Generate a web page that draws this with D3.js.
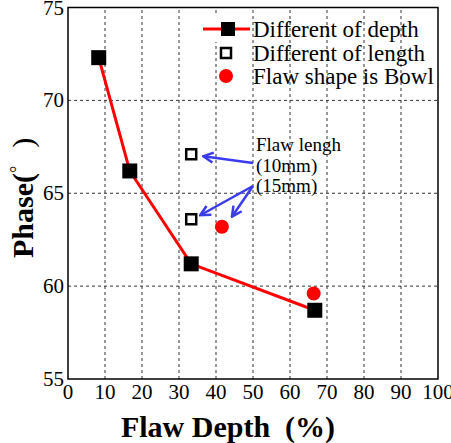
<!DOCTYPE html>
<html>
<head>
<meta charset="utf-8">
<script src="https://cdn.jsdelivr.net/npm/d3@7"></script>
<style>
  body { margin: 0; background: #fff; }
  svg text { font-family: "Liberation Serif", "DejaVu Serif", serif; }
</style>
</head>
<body>
<svg id="chart" width="451" height="443"></svg>
<script>
// data
const depthX = [8.3, 16.7, 33.3, 66.7];
const depthY = [72.3, 66.2, 61.2, 58.7];
const lengthX = [33.3, 33.3];
const lengthY = [67.1, 63.6];
const bowlX = [41.6, 66.4];
const bowlY = [63.2, 59.6];
const xTicks = [0, 10, 20, 30, 40, 50, 60, 70, 80, 90, 100];
const yTicks = [55, 60, 65, 70, 75];
const legendLabels = ['Different of depth', 'Different of length', 'Flaw shape is Bowl'];
const noteLines = ['Flaw lengh', '(10mm)', '(15mm)'];

const svg = d3.select('#chart');
const serif = '"Liberation Serif", "Times New Roman", serif';

const x = d3.scaleLinear().domain([0, 100]).range([68, 438]);
const y = d3.scaleLinear().domain([55, 75]).range([379, 7.5]);

// grid
const grid = svg.append('g')
    .attr('stroke', '#333')
    .attr('stroke-width', 1)
    .attr('stroke-dasharray', '3,3');
xTicks.slice(1, -1).forEach(t => {
    grid.append('line')
        .attr('x1', x(t)).attr('x2', x(t))
        .attr('y1', y(55)).attr('y2', y(75));
});
yTicks.slice(1, -1).forEach(t => {
    grid.append('line')
        .attr('x1', x(0)).attr('x2', x(100))
        .attr('y1', y(t)).attr('y2', y(t));
});

// frame
svg.append('rect')
    .attr('x', x(0)).attr('y', y(75))
    .attr('width', x(100) - x(0)).attr('height', y(55) - y(75))
    .attr('fill', 'none')
    .attr('stroke', '#000')
    .attr('stroke-width', 1.5);

// tick labels
svg.append('g').selectAll('text')
    .data(xTicks)
    .enter()
    .append('text')
    .attr('x', d => x(d))
    .attr('y', 399)
    .attr('text-anchor', 'middle')
    .attr('font-family', serif)
    .attr('font-size', 21)
    .text(d => d);

svg.append('g').selectAll('text')
    .data(yTicks)
    .enter()
    .append('text')
    .attr('x', 64)
    .attr('y', d => y(d) + 7)
    .attr('text-anchor', 'end')
    .attr('font-family', serif)
    .attr('font-size', 21)
    .text(d => d);

// axis titles
svg.append('text')
    .attr('x', 228)
    .attr('y', 437)
    .attr('text-anchor', 'middle')
    .attr('font-family', serif)
    .attr('font-size', 30)
    .attr('font-weight', 'bold')
    .attr('xml:space', 'preserve')
    .text('Flaw Depth  (%)');

const yTitle = svg.append('text')
    .attr('transform', 'translate(33,258) rotate(-90)')
    .attr('font-family', serif)
    .attr('font-size', 30)
    .attr('font-weight', 'bold');
yTitle.append('tspan').text('Phase(');
yTitle.append('tspan').attr('font-size', 18).attr('font-weight', 'normal').attr('dy', -10).text('°');
yTitle.append('tspan').attr('dx', 18).attr('dy', 10).attr('font-weight', 'normal').text(')');

// depth series
const depthPts = depthX.map((d, i) => [d, depthY[i]]);
svg.append('path')
    .datum(depthPts)
    .attr('d', d3.line().x(d => x(d[0])).y(d => y(d[1])))
    .attr('fill', 'none')
    .attr('stroke', '#ff0000')
    .attr('stroke-width', 3);

const sq = 15;
svg.append('g').selectAll('rect')
    .data(depthPts)
    .enter()
    .append('rect')
    .attr('x', d => x(d[0]) - sq / 2)
    .attr('y', d => y(d[1]) - sq / 2)
    .attr('width', sq).attr('height', sq)
    .attr('fill', '#000');

// length series (open squares)
const osq = 10;
svg.append('g').selectAll('rect')
    .data(lengthX.map((d, i) => [d, lengthY[i]]))
    .enter()
    .append('rect')
    .attr('x', d => x(d[0]) - osq / 2)
    .attr('y', d => y(d[1]) - osq / 2)
    .attr('width', osq).attr('height', osq)
    .attr('fill', '#fff')
    .attr('stroke', '#000')
    .attr('stroke-width', 2.5);

// bowl series
svg.append('g').selectAll('circle')
    .data(bowlX.map((d, i) => [d, bowlY[i]]))
    .enter()
    .append('circle')
    .attr('cx', d => x(d[0]))
    .attr('cy', d => y(d[1]))
    .attr('r', 7)
    .attr('fill', '#ff0000');

// legend
const lg = svg.append('g');
lg.append('rect').attr('x', 203).attr('y', 16).attr('width', 48).attr('height', 26).attr('fill', '#fff');
lg.append('line')
    .attr('x1', 203).attr('x2', 250)
    .attr('y1', 29).attr('y2', 29)
    .attr('stroke', '#ff0000').attr('stroke-width', 3);
lg.append('rect').attr('x', 221).attr('y', 22).attr('width', 14).attr('height', 14).attr('fill', '#000');
lg.append('rect').attr('x', 221).attr('y', 48).attr('width', 10).attr('height', 10)
    .attr('fill', '#fff').attr('stroke', '#000').attr('stroke-width', 2.5);
lg.append('circle').attr('cx', 226).attr('cy', 76).attr('r', 7).attr('fill', '#ff0000');
lg.selectAll('text.lbl')
    .data(legendLabels)
    .enter()
    .append('text')
    .attr('class', 'lbl')
    .attr('x', 253)
    .attr('y', (d, i) => 37 + i * 23.5)
    .attr('font-family', serif)
    .attr('font-size', 23)
    .text(d => d);

// annotation
svg.append('g').selectAll('text')
    .data(noteLines)
    .enter()
    .append('text')
    .attr('x', 256)
    .attr('y', (d, i) => 151 + i * 20.5)
    .attr('font-family', serif)
    .attr('font-size', 19)
    .text(d => d);

const blue = '#3a3aee';
svg.append('defs').append('marker')
    .attr('id', 'ah')
    .attr('viewBox', '0 0 10 10')
    .attr('refX', 9).attr('refY', 5)
    .attr('markerWidth', 5).attr('markerHeight', 5)
    .attr('orient', 'auto')
    .append('path')
    .attr('d', 'M1,1 L9,5 L1,9')
    .attr('fill', 'none')
    .attr('stroke', blue)
    .attr('stroke-width', 2);

const arrows = [
    [[253, 163], [x(lengthX[0]) + 12, y(lengthY[0]) + 2]],
    [[253, 186], [x(lengthX[1]) + 9, y(lengthY[1]) - 4]],
    [[253, 186], [x(bowlX[0]) + 10, y(bowlY[0]) - 10]]
];
svg.append('g').selectAll('line')
    .data(arrows)
    .enter()
    .append('line')
    .attr('x1', d => d[0][0]).attr('y1', d => d[0][1])
    .attr('x2', d => d[1][0]).attr('y2', d => d[1][1])
    .attr('stroke', blue)
    .attr('stroke-width', 2.5)
    .attr('marker-end', 'url(#ah)');
</script>
</body>
</html>
